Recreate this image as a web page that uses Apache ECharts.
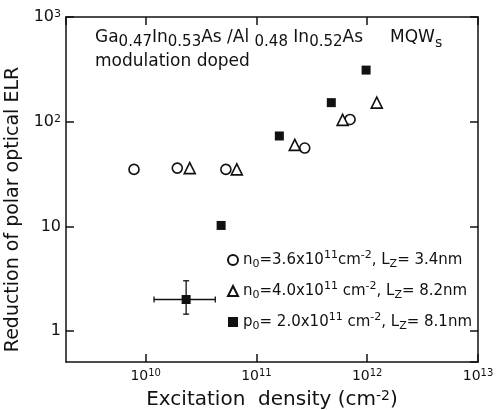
<!DOCTYPE html>
<html>
<head>
<meta charset="utf-8">
<script src="https://cdn.jsdelivr.net/npm/echarts@6/dist/echarts.min.js"></script>
<style>
html, body { margin: 0; padding: 0; background: #fff; }
#chart { width: 501px; height: 410px; }
</style>
</head>
<body>
<div id="chart"></div>
<script>
// excitation density (cm^-2) vs reduction of polar optical ELR
var circleX = [7.85e9, 1.93e10, 5.3e10, 2.73e11, 7.0e11];
var circleY = [35, 36, 35, 56, 105];
var triX = [2.5e10, 6.65e10, 2.22e11, 6.0e11, 1.22e12];
var triY = [36, 35, 60, 104, 152];
var squareX = [2.32e10, 4.8e10, 1.61e11, 4.74e11, 9.77e11];
var squareY = [2.0, 10.2, 73, 152, 311];
// error bar on the lowest square
var errX = [1.19e10, 4.25e10];
var errY = [1.45, 3.02];

var seriesNames = ['n0=3.6x10^11cm^-2, LZ=3.4nm', 'n0=4.0x10^11cm^-2, LZ=8.2nm', 'p0=2.0x10^11cm^-2, LZ=8.1nm'];
var legendLabels = [
    'n{sub|0}=3.6x10{sup|11}cm{sup|-2}, L{sub|Z}= 3.4nm',
    'n{sub|0}=4.0x10{sup|11} cm{sup|-2}, L{sub|Z}= 8.2nm',
    'p{sub|0}= 2.0x10{sup|11} cm{sup|-2}, L{sub|Z}= 8.1nm'
];

var FONT = 'DejaVu Sans';
var INK = '#111';

function pairs(xs, ys) {
    return xs.map(function (x, i) { return [x, ys[i]]; });
}

// 10^n labels with a raised exponent
function powLabel(v) {
    var e = Math.round(Math.log10(v));
    if (e === 0) return '1';
    if (e === 1) return '10';
    return '10{sup|' + e + '}';
}

var chart = echarts.init(document.getElementById('chart'), null, { renderer: 'canvas' });

var xMin = 1.91e9, xMax = 1e13, yMin = 0.506, yMax = 1000;

var frameLine = { show: true, lineStyle: { color: INK, width: 1.5 } };
var inTick = { show: true, inside: true, length: 8, lineStyle: { color: INK, width: 1.5 } };

var option = {
    animation: false,
    backgroundColor: '#fff',
    textStyle: { fontFamily: FONT, color: INK },
    title: {
        left: 90,
        top: 21,
        text: 'Ga{s|0.47}In{s|0.53}As /Al {s|0.48} In{s|0.52}As     MQW{s2|s}\nmodulation doped',
        textStyle: {
            fontFamily: FONT, fontSize: 17, fontWeight: 'normal', color: INK, lineHeight: 24,
            rich: {
                s: { fontFamily: FONT, fontSize: 15, lineHeight: 12, verticalAlign: 'bottom', color: INK },
                s2: { fontFamily: FONT, fontSize: 14, lineHeight: 14, verticalAlign: 'bottom', color: INK }
            }
        }
    },
    legend: {
        data: seriesNames,
        orient: 'vertical',
        left: 222,
        top: 245,
        itemWidth: 10,
        itemHeight: 10,
        itemGap: 11,
        formatter: function (name) {
            return legendLabels[seriesNames.indexOf(name)];
        },
        textStyle: {
            fontFamily: FONT, fontSize: 15, color: INK, lineHeight: 20,
            rich: {
                sub: { fontFamily: FONT, fontSize: 11, lineHeight: 10, verticalAlign: 'bottom', color: INK },
                sup: { fontFamily: FONT, fontSize: 11, lineHeight: 10, verticalAlign: 'top', color: INK }
            }
        }
    },
    grid: { left: 66, right: 23, top: 17, bottom: 48, containLabel: false, outerBoundsMode: 'none' },
    xAxis: [{
        type: 'log',
        min: xMin,
        max: xMax,
        position: 'bottom',
        name: 'Excitation  density (cm{sup|-2})',
        nameLocation: 'middle',
        nameGap: 24,
        nameTextStyle: {
            fontFamily: FONT, fontSize: 20, color: INK, lineHeight: 22,
            rich: { sup: { fontFamily: FONT, fontSize: 14, lineHeight: 12, verticalAlign: 'top', color: INK } }
        },
        axisLine: frameLine,
        axisTick: inTick,
        splitLine: { show: false },
        axisLabel: {
            showMinLabel: false,
            margin: 6,
            fontFamily: FONT, fontSize: 14, color: INK, lineHeight: 16,
            formatter: powLabel,
            rich: { sup: { fontFamily: FONT, fontSize: 10, lineHeight: 9, verticalAlign: 'top', color: INK } }
        }
    }, {
        type: 'log',
        min: xMin,
        max: xMax,
        position: 'top',
        axisLine: frameLine,
        axisTick: inTick,
        splitLine: { show: false },
        axisLabel: { show: false }
    }],
    yAxis: [{
        type: 'log',
        min: yMin,
        max: yMax,
        position: 'left',
        name: 'Reduction of polar optical ELR',
        nameLocation: 'middle',
        nameGap: 31,
        nameTextStyle: { fontFamily: FONT, fontSize: 19, color: INK, padding: [0, 40, 0, 0] },
        axisLine: frameLine,
        axisTick: inTick,
        splitLine: { show: false },
        axisLabel: {
            showMinLabel: false,
            margin: 5,
            fontFamily: FONT, fontSize: 16, color: INK, lineHeight: 16,
            formatter: powLabel,
            rich: { sup: { fontFamily: FONT, fontSize: 11, lineHeight: 10, verticalAlign: 'top', color: INK } }
        }
    }, {
        type: 'log',
        min: yMin,
        max: yMax,
        position: 'right',
        axisLine: frameLine,
        axisTick: inTick,
        splitLine: { show: false },
        axisLabel: { show: false }
    }],
    series: [{
        name: seriesNames[0],
        type: 'scatter',
        symbol: 'circle',
        symbolSize: 10,
        itemStyle: { color: '#fff', borderColor: INK, borderWidth: 1.6, opacity: 1 },
        data: pairs(circleX, circleY),
        z: 3
    }, {
        name: seriesNames[1],
        type: 'scatter',
        symbol: 'triangle',
        symbolSize: 11,
        itemStyle: { color: '#fff', borderColor: INK, borderWidth: 1.6, opacity: 1 },
        data: pairs(triX, triY),
        z: 3
    }, {
        name: seriesNames[2],
        type: 'scatter',
        symbol: 'rect',
        symbolSize: 9,
        itemStyle: { color: INK, opacity: 1 },
        data: pairs(squareX, squareY),
        z: 4
    }, {
        type: 'custom',
        name: 'error',
        data: [[squareX[0], squareY[0], errX[0], errX[1], errY[0], errY[1]]],
        encode: { x: 0, y: 1 },
        z: 2,
        renderItem: function (params, api) {
            var y = api.value(1), x = api.value(0);
            var l = api.coord([api.value(2), y]);
            var r = api.coord([api.value(3), y]);
            var lo = api.coord([x, api.value(4)]);
            var hi = api.coord([x, api.value(5)]);
            var st = { stroke: INK, lineWidth: 1.3 };
            var cap = 3;
            return {
                type: 'group',
                children: [
                    { type: 'line', shape: { x1: l[0], y1: l[1], x2: r[0], y2: r[1] }, style: st },
                    { type: 'line', shape: { x1: l[0], y1: l[1] - cap, x2: l[0], y2: l[1] + cap }, style: st },
                    { type: 'line', shape: { x1: r[0], y1: r[1] - cap, x2: r[0], y2: r[1] + cap }, style: st },
                    { type: 'line', shape: { x1: lo[0], y1: lo[1], x2: hi[0], y2: hi[1] }, style: st },
                    { type: 'line', shape: { x1: lo[0] - cap, y1: lo[1], x2: lo[0] + cap, y2: lo[1] }, style: st },
                    { type: 'line', shape: { x1: hi[0] - cap, y1: hi[1], x2: hi[0] + cap, y2: hi[1] }, style: st }
                ]
            };
        }
    }]
};

chart.setOption(option);
</script>
</body>
</html>
